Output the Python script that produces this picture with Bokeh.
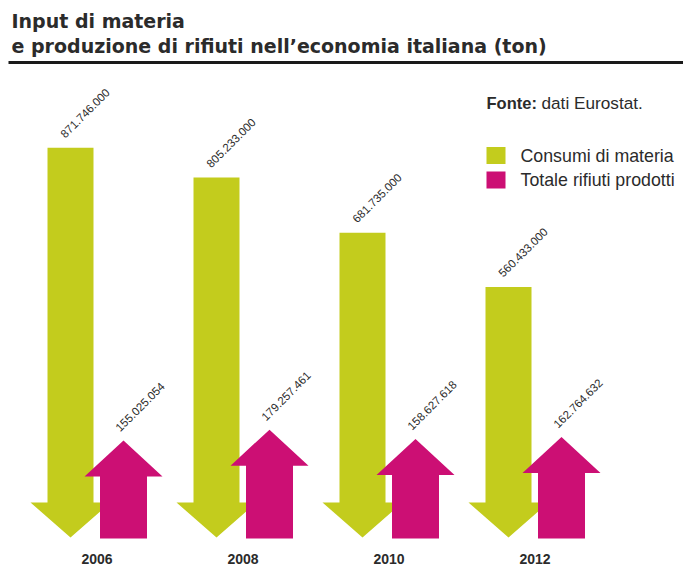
import numpy as np
from bokeh.plotting import figure
from bokeh.models import Range1d
from bokeh.core.properties import value
from bokeh.embed import file_html
from bokeh.resources import INLINE

# ---------------- data ----------------
years = ["2006", "2008", "2010", "2012"]
consumi = [871746000, 805233000, 681735000, 560433000]      # Consumi di materia (ton)
rifiuti = [155025054, 179257461, 158627618, 162764632]      # Totale rifiuti prodotti (ton)
series_names = ["Consumi di materia", "Totale rifiuti prodotti"]
title_lines = ["Input di materia", "e produzione di rifiuti nell\u2019economia italiana (ton)"]
source_bold = "Fonte:"
source_text = "dati Eurostat."

# ---------------- layout / style ----------------
W, H = 683, 566
K = 0.447                 # px per million tonnes
ZERO_Y = 537              # page y of the zero line (green arrow tips)
GREEN = "#c3cc1d"
MAGENTA = "#cc0f74"
TXT = "#2b2b2b"

def ypx(page_y):
    """page pixel y -> data y (millions)"""
    return (ZERO_Y - page_y) / K

def xpx(page_x):
    return page_x

p = figure(width=W, height=H, x_range=Range1d(0, W),
           y_range=Range1d(-(H - ZERO_Y) / K, ZERO_Y / K),
           output_backend="svg", toolbar_location=None,
           x_axis_type=None, y_axis_type=None, min_border=0,
           outline_line_color=None, background_fill_color="white",
           border_fill_color="white")

gx0, step, mdx = xpx(70), 146.0, 53.0
g_centers = [gx0 + i * step for i in range(len(years))]
m_centers = [c + mdx for c in g_centers]

# green arrows (pointing down, tip at zero)
g_half, g_head_half, g_head_h = 23, 40, 35 / K
gxs, gys = [], []
for c, v in zip(g_centers, consumi):
    top = v / 1e6
    gxs.append([c - g_half, c + g_half, c + g_half, c + g_head_half, c, c - g_head_half, c - g_half])
    gys.append([top, top, g_head_h, g_head_h, 0, g_head_h, g_head_h])
p.patches(gxs, gys, fill_color=GREEN, line_color=None)

# magenta arrows (pointing up)
m_half, m_head_half, m_head_h = 23.5, 39, 36 / K
m_extra = 62.0
m_bottom = ypx(538)
mxs, mys, m_tips = [], [], []
for c, v in zip(m_centers, rifiuti):
    tip = v / 1e6 + m_extra
    m_tips.append(tip)
    hb = tip - m_head_h
    mxs.append([c - m_half, c + m_half, c + m_half, c + m_head_half, c, c - m_head_half, c - m_half])
    mys.append([m_bottom, m_bottom, hb, hb, tip, hb, hb])
p.patches(mxs, mys, fill_color=MAGENTA, line_color=None)

def fmt(v):
    return f"{v:,}".replace(",", ".")

# value labels
p.text(x=[c - 8 for c in g_centers], y=[v / 1e6 for v in consumi],
       text=[fmt(v) for v in consumi], angle=np.pi / 4, y_offset=-12,
       text_font=value("Liberation Sans"), text_font_size="11.5px",
       text_color=TXT, text_align="left", text_baseline="alphabetic")
p.text(x=[c - 6 for c in m_centers], y=m_tips,
       text=[fmt(v) for v in rifiuti], angle=np.pi / 4, y_offset=-11,
       text_font=value("Liberation Sans"), text_font_size="11.5px",
       text_color=TXT, text_align="left", text_baseline="alphabetic")

# year labels
p.text(x=[(g + m) / 2 for g, m in zip(g_centers, m_centers)], y=[ypx(558.5)] * len(years),
       text=years, text_font=value("Liberation Sans"), text_font_size="14px",
       text_font_style="bold", text_color=TXT, text_align="center",
       text_baseline="middle")

# title
p.text(x=[xpx(11), xpx(11)], y=[ypx(20), ypx(45)], text=title_lines,
       text_font=value("DejaVu Sans"), text_font_size="19px", text_font_style="bold",
       text_color=TXT, text_align="left", text_baseline="middle")
p.segment(x0=[xpx(8)], y0=[ypx(62)], x1=[W], y1=[ypx(62)], line_color="#1a1a1a", line_width=3)

# source
p.text(x=[xpx(486)], y=[ypx(102.5)], text=[source_bold], text_font=value("Liberation Sans"),
       text_font_size="16.5px", text_font_style="bold", text_color=TXT,
       text_align="left", text_baseline="middle")
p.text(x=[xpx(541)], y=[ypx(102.5)], text=[source_text], text_font=value("Liberation Sans"),
       text_font_size="17.2px", text_color=TXT, text_align="left", text_baseline="middle")

# legend
leg_y = [ypx(155), ypx(179.5)]
p.rect(x=[xpx(495.5)] * 2, y=leg_y, width=19, height=17 / K,
       fill_color=[GREEN, MAGENTA], line_color=None)
p.text(x=[xpx(520)] * 2, y=leg_y, text=series_names, text_font=value("Liberation Sans"),
       text_font_size="17.8px", text_color=TXT, text_align="left", text_baseline="middle")

open("out.html", "w").write(file_html(p, INLINE))
